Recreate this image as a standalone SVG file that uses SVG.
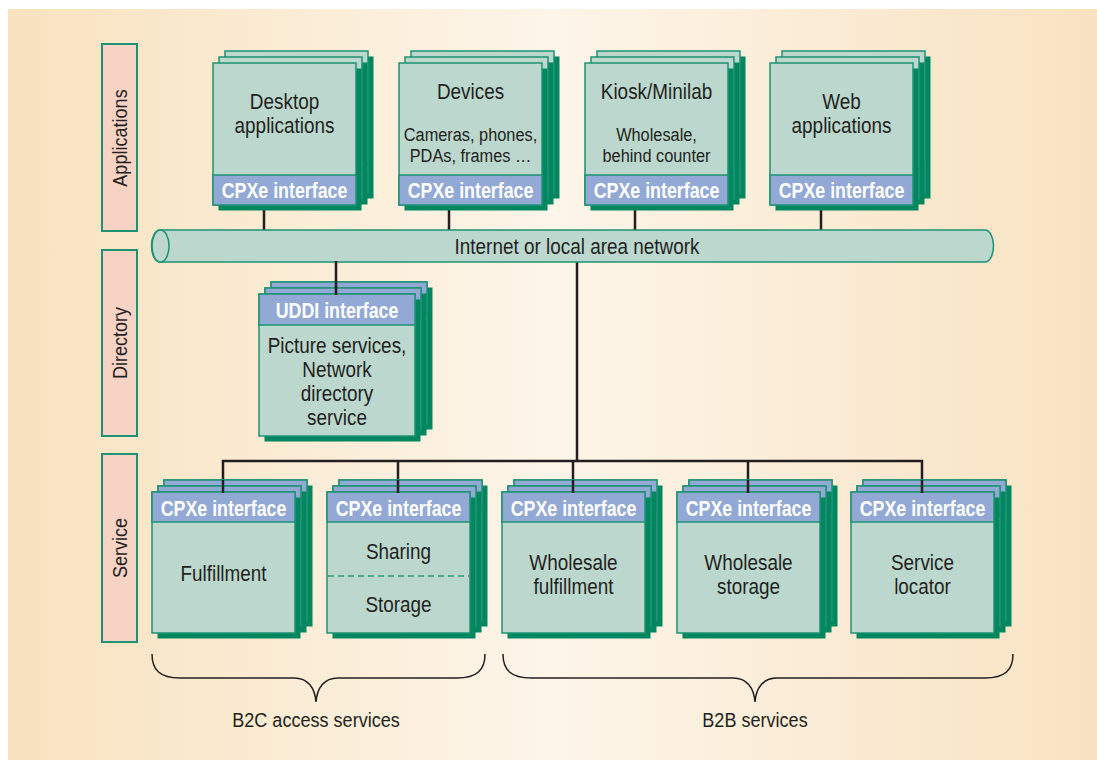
<svg xmlns="http://www.w3.org/2000/svg" xmlns:xlink="http://www.w3.org/1999/xlink" width="1097" height="760" viewBox="0 0 1097 760">
  <style>
    .txt { font-family: "Liberation Sans", Arial, sans-serif; fill: #231f20; text-anchor: middle; }
    .big { font-size: 22px; }
    .small { font-size: 19px; }
    .lbl { font-size: 21px; }
    .iface { font-family: "Liberation Sans", Arial, sans-serif; font-weight: bold; font-size: 22px; fill: #ffffff; text-anchor: middle; }
    .side { fill: #f7d3c6; stroke: #1d9272; stroke-width: 2; }
    .wire { stroke: #231f20; stroke-width: 2.5; fill: none; }
    .brace { stroke: #231f20; stroke-width: 1.5; fill: none; }
    .body { fill: #bcd8ce; stroke: #1d9272; stroke-width: 1.5; }
    .band { fill: #93a9d5; stroke: #1d9272; stroke-width: 1.5; }
    .shadow { fill: #00875f; }
  </style>
  <defs>
    <linearGradient id="bg" x1="0" y1="0" x2="1" y2="0">
      <stop offset="0" stop-color="#f8e2bf"/>
      <stop offset="0.5" stop-color="#fdf5e9"/>
      <stop offset="1" stop-color="#f8e2c1"/>
    </linearGradient>
    <!-- application card: interface band along the bottom -->
    <g id="appCard">
      <rect class="shadow" x="5.5" y="5.5" width="143" height="142"/>
      <rect class="body" x="0" y="0" width="143" height="142"/>
      <rect class="band" x="0" y="112" width="143" height="30"/>
    </g>
    <!-- service card: interface band along the top -->
    <g id="svcCard">
      <rect class="shadow" x="5.5" y="5.5" width="143" height="141"/>
      <rect class="body" x="0" y="0" width="143" height="141"/>
      <rect class="band" x="0" y="0" width="143" height="30"/>
    </g>
    <!-- directory card: wider, band along the top -->
    <g id="dirCard">
      <rect class="shadow" x="5.5" y="5.5" width="156" height="142"/>
      <rect class="body" x="0" y="0" width="156" height="142"/>
      <rect class="band" x="0" y="0" width="156" height="31"/>
    </g>
  </defs>

  <rect x="8" y="9" width="1089" height="751" fill="url(#bg)"/>

  <!-- layer labels (condensed type via horizontal scale) -->
  <g id="label-applications">
    <rect class="side" x="102" y="44" width="35" height="187"/>
    <text class="txt lbl" transform="translate(127,138) rotate(-90) scale(0.86,1)">Applications</text>
  </g>
  <g id="label-directory">
    <rect class="side" x="102" y="250" width="35" height="186"/>
    <text class="txt lbl" transform="translate(127,343) rotate(-90) scale(0.86,1)">Directory</text>
  </g>
  <g id="label-service">
    <rect class="side" x="102" y="454" width="35" height="188"/>
    <text class="txt lbl" transform="translate(127,548) rotate(-90) scale(0.86,1)">Service</text>
  </g>

  <!-- connectors -->
  <g id="connectors">
    <line class="wire" x1="264" y1="205" x2="264" y2="231"/>
    <line class="wire" x1="449" y1="205" x2="449" y2="231"/>
    <line class="wire" x1="635" y1="205" x2="635" y2="231"/>
    <line class="wire" x1="821" y1="205" x2="821" y2="231"/>
    <line class="wire" x1="577" y1="261" x2="577" y2="461"/>
    <path class="wire" d="M223,493 V461 H922 V493"/>
    <line class="wire" x1="398" y1="461" x2="398" y2="493"/>
    <line class="wire" x1="573" y1="461" x2="573" y2="493"/>
    <line class="wire" x1="748" y1="461" x2="748" y2="493"/>
  </g>

  <!-- network backbone -->
  <g id="network">
    <path class="body" d="M160,230 H985 A8.5,16 0 0 1 985,262 H160 A8.5,16 0 0 1 160,230 Z"/>
    <ellipse class="body" cx="160.5" cy="246" rx="8.5" ry="16"/>
    <text class="txt big" transform="translate(577,253.5) scale(0.86,1)">Internet or local area network</text>
  </g>

  <!-- application stacks -->
  <g id="app-desktop">
    <use xlink:href="#appCard" x="225" y="51"/>
    <use xlink:href="#appCard" x="219" y="57"/>
    <use xlink:href="#appCard" x="213" y="63"/>
    <text class="txt big" transform="translate(284.5,108.5) scale(0.86,1)">Desktop</text>
    <text class="txt big" transform="translate(284.5,132.5) scale(0.86,1)">applications</text>
    <text class="iface" transform="translate(284.5,197.5) scale(0.81,1)">CPXe interface</text>
  </g>
  <g id="app-devices">
    <use xlink:href="#appCard" x="411" y="51"/>
    <use xlink:href="#appCard" x="405" y="57"/>
    <use xlink:href="#appCard" x="399" y="63"/>
    <text class="txt big" transform="translate(470.5,98.5) scale(0.86,1)">Devices</text>
    <text class="txt small" transform="translate(470.5,140.5) scale(0.86,1)">Cameras, phones,</text>
    <text class="txt small" transform="translate(470.5,162) scale(0.86,1)">PDAs, frames …</text>
    <text class="iface" transform="translate(470.5,197.5) scale(0.81,1)">CPXe interface</text>
  </g>
  <g id="app-kiosk">
    <use xlink:href="#appCard" x="597" y="51"/>
    <use xlink:href="#appCard" x="591" y="57"/>
    <use xlink:href="#appCard" x="585" y="63"/>
    <text class="txt big" transform="translate(656.5,98.5) scale(0.86,1)">Kiosk/Minilab</text>
    <text class="txt small" transform="translate(656.5,140.5) scale(0.86,1)">Wholesale,</text>
    <text class="txt small" transform="translate(656.5,162) scale(0.86,1)">behind counter</text>
    <text class="iface" transform="translate(656.5,197.5) scale(0.81,1)">CPXe interface</text>
  </g>
  <g id="app-web">
    <use xlink:href="#appCard" x="782" y="51"/>
    <use xlink:href="#appCard" x="776" y="57"/>
    <use xlink:href="#appCard" x="770" y="63"/>
    <text class="txt big" transform="translate(841.5,108.5) scale(0.86,1)">Web</text>
    <text class="txt big" transform="translate(841.5,132.5) scale(0.86,1)">applications</text>
    <text class="iface" transform="translate(841.5,197.5) scale(0.81,1)">CPXe interface</text>
  </g>

  <!-- directory -->
  <g id="dir-uddi">
    <use xlink:href="#dirCard" x="271" y="282"/>
    <use xlink:href="#dirCard" x="265" y="288"/>
    <use xlink:href="#dirCard" x="259" y="294"/>
    <line class="wire" x1="336" y1="261" x2="336" y2="295"/>
    <text class="iface" transform="translate(337,317.5) scale(0.81,1)">UDDI interface</text>
    <text class="txt big" transform="translate(337,352.5) scale(0.86,1)">Picture services,</text>
    <text class="txt big" transform="translate(337,376.5) scale(0.86,1)">Network</text>
    <text class="txt big" transform="translate(337,400.5) scale(0.86,1)">directory</text>
    <text class="txt big" transform="translate(337,424.5) scale(0.86,1)">service</text>
  </g>

  <!-- service stacks -->
  <g id="svc-fulfillment">
    <use xlink:href="#svcCard" x="164" y="480"/>
    <use xlink:href="#svcCard" x="158" y="486"/>
    <use xlink:href="#svcCard" x="152" y="492"/>
    <line class="wire" x1="223" y1="480" x2="223" y2="493"/>
    <text class="iface" transform="translate(223.5,515.5) scale(0.81,1)">CPXe interface</text>
    <text class="txt big" transform="translate(223.5,580.5) scale(0.86,1)">Fulfillment</text>
  </g>
  <g id="svc-sharing">
    <use xlink:href="#svcCard" x="339" y="480"/>
    <use xlink:href="#svcCard" x="333" y="486"/>
    <use xlink:href="#svcCard" x="327" y="492"/>
    <line class="wire" x1="398" y1="480" x2="398" y2="493"/>
    <line x1="328" y1="576" x2="469" y2="576" stroke="#2a9a7a" stroke-width="1.5" stroke-dasharray="6,4"/>
    <text class="iface" transform="translate(398.5,515.5) scale(0.81,1)">CPXe interface</text>
    <text class="txt big" transform="translate(398.5,558.5) scale(0.86,1)">Sharing</text>
    <text class="txt big" transform="translate(398.5,611.5) scale(0.86,1)">Storage</text>
  </g>
  <g id="svc-wholesale-fulfillment">
    <use xlink:href="#svcCard" x="514" y="480"/>
    <use xlink:href="#svcCard" x="508" y="486"/>
    <use xlink:href="#svcCard" x="502" y="492"/>
    <line class="wire" x1="573" y1="480" x2="573" y2="493"/>
    <text class="iface" transform="translate(573.5,515.5) scale(0.81,1)">CPXe interface</text>
    <text class="txt big" transform="translate(573.5,569.5) scale(0.86,1)">Wholesale</text>
    <text class="txt big" transform="translate(573.5,593.5) scale(0.86,1)">fulfillment</text>
  </g>
  <g id="svc-wholesale-storage">
    <use xlink:href="#svcCard" x="689" y="480"/>
    <use xlink:href="#svcCard" x="683" y="486"/>
    <use xlink:href="#svcCard" x="677" y="492"/>
    <line class="wire" x1="748" y1="480" x2="748" y2="493"/>
    <text class="iface" transform="translate(748.5,515.5) scale(0.81,1)">CPXe interface</text>
    <text class="txt big" transform="translate(748.5,569.5) scale(0.86,1)">Wholesale</text>
    <text class="txt big" transform="translate(748.5,593.5) scale(0.86,1)">storage</text>
  </g>
  <g id="svc-locator">
    <use xlink:href="#svcCard" x="863" y="480"/>
    <use xlink:href="#svcCard" x="857" y="486"/>
    <use xlink:href="#svcCard" x="851" y="492"/>
    <line class="wire" x1="922" y1="480" x2="922" y2="493"/>
    <text class="iface" transform="translate(922.5,515.5) scale(0.81,1)">CPXe interface</text>
    <text class="txt big" transform="translate(922.5,569.5) scale(0.86,1)">Service</text>
    <text class="txt big" transform="translate(922.5,593.5) scale(0.86,1)">locator</text>
  </g>

  <!-- groupings -->
  <g id="group-b2c">
    <path class="brace" d="M152,654 C152,670 160,678 180,678 H294 C308,678 315,688 316,702 C317,688 324,678 338,678 H457 C477,678 485,670 485,654"/>
    <text class="txt lbl" transform="translate(316,726.5) scale(0.86,1)">B2C access services</text>
  </g>
  <g id="group-b2b">
    <path class="brace" d="M503,654 C503,670 511,678 531,678 H733 C747,678 754,688 755,702 C756,688 763,678 777,678 H985 C1005,678 1013,670 1013,654"/>
    <text class="txt lbl" transform="translate(755,726.5) scale(0.86,1)">B2B services</text>
  </g>
</svg>
